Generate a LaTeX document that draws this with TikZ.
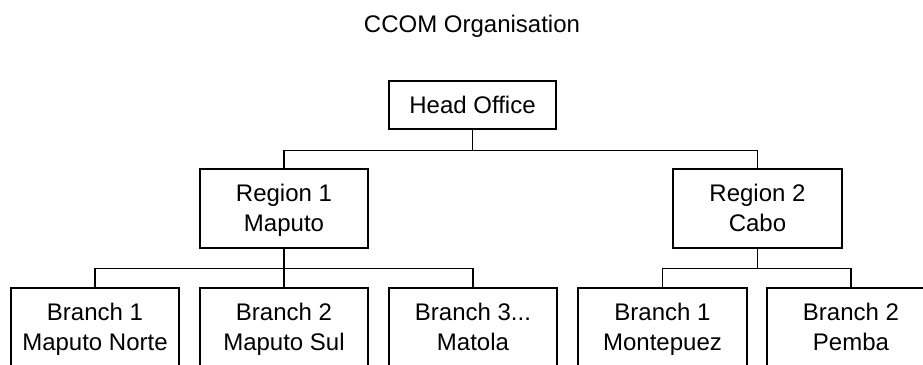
\documentclass[tikz,border=0pt]{standalone}
\usepackage{fontspec}
\setmainfont{Liberation Sans}
\usetikzlibrary{positioning}

% two-line box label with fixed top/bottom struts so boxes centre alike
\newcommand{\boxtext}[2]{\rule{0pt}{22pt}#1\\#2\rule[-5.6pt]{0pt}{5.6pt}}

\tikzset{
  orgbox/.style={draw=black, line width=1.2pt, fill=white, inner sep=0pt,
    minimum width=168pt, minimum height=79pt, align=center,
    font=\fontsize{24}{30}\selectfont},
  headbox/.style={orgbox, minimum width=167pt, minimum height=48pt},
  link/.style={draw=black, line width=1.2pt},
  titletext/.style={font=\fontsize{24}{30}\selectfont, inner sep=0pt, anchor=base}
}

\begin{document}
\begin{tikzpicture}[x=1pt, y=-1pt]
  \path[use as bounding box, clip] (0,0) rectangle (923,364);
  \fill[white] (0,0) rectangle (923,364);

  \node[titletext] (title) at (472,32) {CCOM Organisation};

  % top level
  \node[headbox] (head) at (472.5,105) {\rule{0pt}{18pt}Head Office};

  % regions
  \node[orgbox] (r1) at (284,208.5) {\boxtext{Region 1}{Maputo}};
  \node[orgbox, minimum width=169pt] (r2) at (757.5,208.5) {\boxtext{Region 2}{Cabo}};

  % branches
  \node[orgbox] (b1) at (95,327.5) {\boxtext{Branch 1}{Maputo Norte}};
  \node[orgbox] (b2) at (284,327.5) {\boxtext{Branch 2}{Maputo Sul}};
  \node[orgbox] (b3) at (473,327.5) {\boxtext{Branch 3...}{Matola}};
  \node[orgbox, minimum width=169pt] (b4) at (662.5,327.5) {\boxtext{Branch 1}{Montepuez}};
  \node[orgbox] (b5) at (851,327.5) {\boxtext{Branch 2}{Pemba}};

  % junction points of the tree lines
  \coordinate (hj) at ([yshift=-21pt]head.south);
  \coordinate (j1) at ([yshift=-20pt]r1.south);
  \coordinate (j2) at ([yshift=-20pt]r2.south);

  % connectors
  \draw[link] (head.south) -- (hj);
  \draw[link] (r1.north) |- (hj) -| (r2.north);
  \draw[link] (r1.south) -- (b2.north);
  \draw[link] (b1.north) |- (j1) -| (b3.north);
  \draw[link] (r2.south) -- (j2);
  \draw[link] (b4.north) |- (j2) -| (b5.north);
\end{tikzpicture}
\end{document}
